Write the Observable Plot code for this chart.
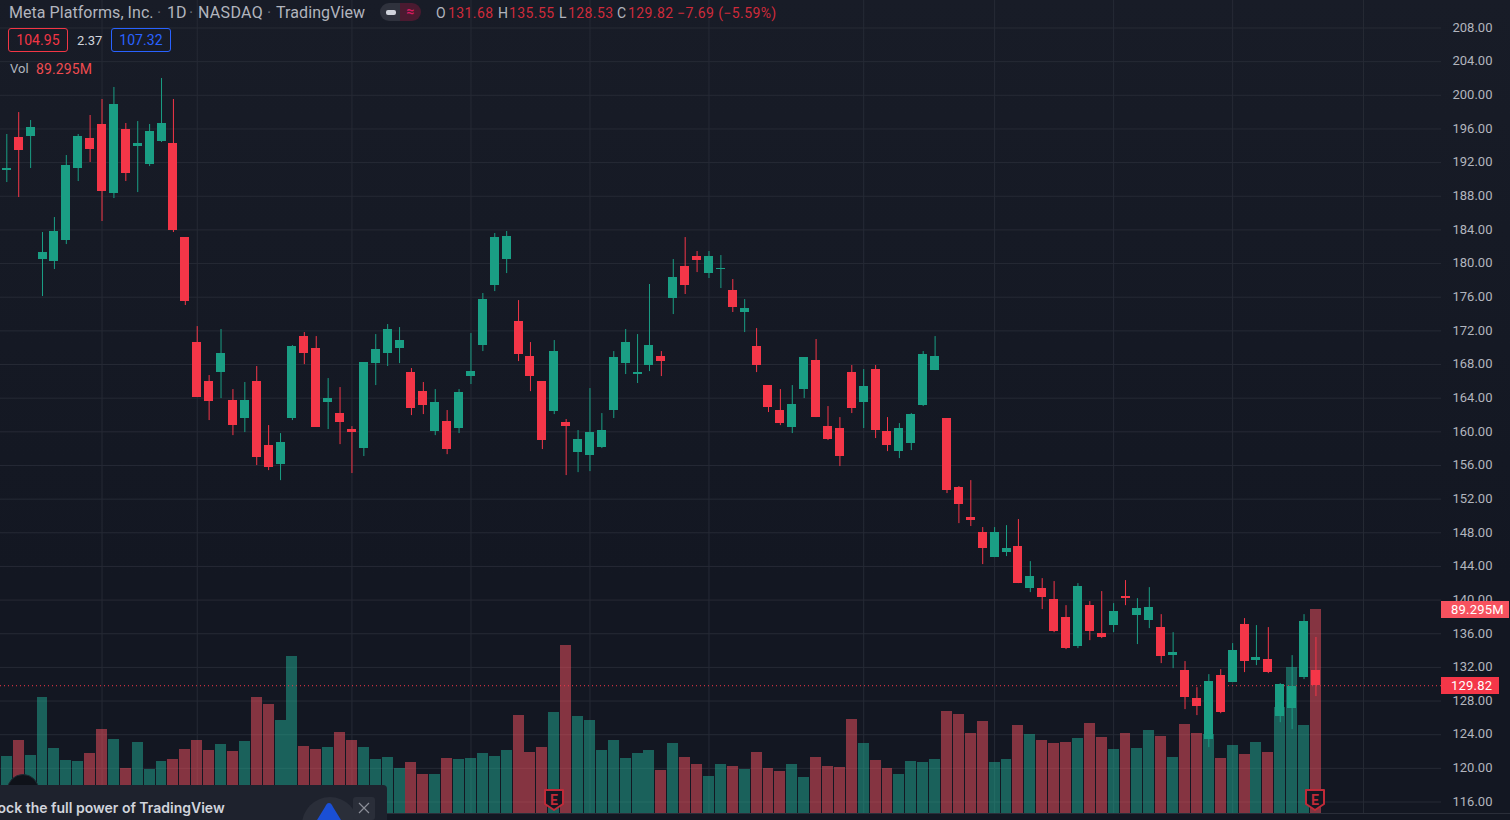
<!DOCTYPE html>
<html><head><meta charset="utf-8">
<script src="https://cdn.jsdelivr.net/npm/d3@7"></script>
<script src="https://cdn.jsdelivr.net/npm/@observablehq/plot@0.6"></script>
<style>
html,body{margin:0;padding:0;width:1510px;height:820px;overflow:hidden;background:linear-gradient(#181c27,#131722 70%);font-family:Roboto,sans-serif;}
#chart{position:absolute;left:0;top:0;width:1510px;height:820px;}
#chart svg{background:transparent;display:block;}
.t{position:absolute;white-space:nowrap;line-height:1;}
.box{position:absolute;box-sizing:border-box;border-radius:3px;text-align:center;font-size:14px;line-height:22px;letter-spacing:.1px;}
.badge{position:absolute;left:1441px;height:17px;line-height:17px;color:#fff;font-size:13px;padding-left:10px;box-sizing:border-box;letter-spacing:.2px;}
</style></head><body>
<div id="chart"></div>
<script>
const opens=[191.06,194.98,195.10,180.48,180.24,182.74,191.30,194.86,196.53,188.32,195.93,193.91,191.77,194.51,194.27,183.09,170.61,165.97,167.04,163.72,161.58,165.97,158.37,156.11,161.58,171.32,169.90,163.48,162.17,160.27,158.01,168.11,169.30,169.90,167.04,164.78,160.03,161.22,160.39,166.57,170.25,177.39,180.48,173.11,168.95,165.97,162.41,161.10,157.53,157.18,158.13,162.53,168.11,166.81,167.88,168.95,175.84,179.65,180.83,178.81,179.29,176.79,174.18,170.14,165.50,162.53,160.51,165.02,168.47,160.62,160.39,167.04,163.48,167.40,160.03,157.65,158.60,163.12,167.28,161.58,153.37,149.80,148.02,145.05,145.64,146.36,141.36,141.36,140.06,137.92,134.47,139.34,136.01,136.97,140.41,138.15,137.56,136.73,133.40,131.62,128.29,123.41,131.02,130.19,137.08,132.80,132.92,126.15,127.10,130.78,131.68];
const highs=[195.34,197.95,197.00,183.69,185.47,192.84,195.34,197.60,199.50,200.93,196.65,196.88,196.53,202.00,199.50,183.09,172.51,166.69,172.16,165.02,165.86,167.76,160.74,159.79,170.25,171.80,171.32,166.33,165.26,160.62,168.23,171.56,172.75,172.39,167.52,165.86,165.02,162.53,165.02,171.68,176.44,183.57,183.81,175.60,170.61,165.97,170.85,161.46,160.15,165.14,162.17,169.54,172.16,171.56,177.51,169.54,180.48,183.09,181.43,181.43,180.95,178.10,175.72,172.27,165.50,165.02,165.50,168.83,170.97,163.00,161.69,167.88,167.40,167.88,161.69,160.98,162.17,169.54,171.32,161.58,153.49,154.20,148.62,148.62,148.85,149.57,144.57,142.55,142.20,139.34,141.96,139.82,141.01,139.58,142.32,140.17,141.48,138.27,136.13,132.69,129.59,131.14,131.73,134.83,137.80,136.97,136.73,130.07,133.40,138.27,135.55];
const lows=[189.63,187.85,191.30,176.08,179.29,182.26,189.75,192.01,185.00,187.73,189.75,188.44,191.53,194.39,183.69,175.01,164.07,161.34,163.95,159.55,159.91,155.99,155.39,154.20,161.34,167.99,160.51,160.27,158.48,155.04,157.06,165.50,167.76,168.11,161.93,162.05,159.55,157.29,159.79,165.62,169.54,176.67,178.81,168.35,164.78,157.89,162.05,154.80,155.15,155.27,158.01,161.58,166.81,165.74,167.16,166.57,173.94,176.32,178.93,178.22,177.03,174.18,171.80,167.04,162.29,160.74,159.79,163.95,161.69,158.96,155.87,162.17,160.39,159.20,157.65,156.82,157.77,163.00,167.28,152.66,149.09,148.74,144.22,145.05,145.17,141.96,140.89,138.87,136.13,134.11,134.23,135.18,135.42,136.13,139.34,134.71,136.61,132.45,131.85,126.98,126.27,122.46,126.50,130.19,131.38,132.21,131.26,125.43,124.60,130.55,128.53];
const closes=[191.33,193.44,196.17,181.31,183.81,191.65,195.10,193.56,188.56,198.91,190.70,194.27,195.70,196.65,183.93,175.49,164.07,163.60,169.30,160.74,163.72,156.94,155.75,158.72,170.14,169.30,160.51,163.95,161.10,159.91,168.23,169.78,172.16,170.85,162.76,163.12,163.48,157.89,164.67,167.16,175.72,183.09,183.21,169.18,166.57,158.96,169.54,160.62,159.08,159.91,160.15,168.83,170.61,167.04,170.25,168.35,178.34,177.39,180.36,180.83,179.41,174.77,174.65,167.88,162.88,160.98,163.24,168.83,161.69,159.08,157.06,162.76,165.38,160.15,158.37,160.39,162.05,169.18,168.95,153.02,151.35,149.45,146.12,148.02,146.12,141.96,142.79,140.29,136.25,134.23,141.60,136.25,135.54,138.63,140.17,138.99,139.11,133.28,133.76,128.41,127.34,130.31,126.62,133.99,132.69,133.16,131.38,129.95,129.71,137.44,129.82];
const volumes=[24.9,32.0,25.4,50.8,28.5,23.2,22.8,26.3,36.8,32.4,19.7,31.1,19.3,22.8,23.6,28.0,32.0,27.6,30.2,27.1,31.5,50.8,47.7,40.7,68.7,29.3,28.0,28.9,35.5,32.0,28.9,23.6,24.5,19.7,22.3,17.1,17.1,24.1,23.6,24.1,26.3,24.9,27.6,42.9,26.7,28.9,44.2,73.5,42.5,40.7,27.6,32.0,24.1,26.3,27.6,18.8,30.6,24.5,21.4,16.2,21.4,20.6,19.3,26.7,19.7,18.4,21.4,15.8,24.5,20.6,20.1,41.1,30.6,23.2,19.7,17.1,22.8,22.3,23.6,44.6,43.3,35.0,40.3,22.3,23.6,38.5,34.6,32.0,30.6,31.1,32.8,39.4,33.3,28.0,35.0,28.5,36.3,33.7,24.5,39.0,35.0,34.6,24.1,29.8,25.8,31.1,26.7,46.4,63.9,38.5,89.295];
const priceTicks=[116,120,124,128,132,136,140,144,148,152,156,160,164,168,172,176,180,184,188,192,196,200,204,208];
const verticalGrid=[8,16,29,39,49,59,72,83,93,103,114];
const earnings=[46,110];
const lastPrice=129.82, lastVolume=89.295;

const candles=opens.map((o,i)=>({i,o,h:highs[i],l:lows[i],c:closes[i],v:volumes[i]}));
const up=candles.filter(d=>d.c>=d.o), down=candles.filter(d=>d.c<d.o);
const GREEN="#1a9e84",RED="#f43648",GRID="#262a35";
const volBase=114.63, volK=0.2716; // volume pane is a 0-based scale laid over the price axis
const volUp={x1:d=>d.i-.46,x2:d=>d.i+.46,y1:volBase,y2:d=>volBase+d.v*volK};
const body={x1:d=>d.i-.378,x2:d=>d.i+.378,y1:d=>d.o,y2:d=>d.c,shapeRendering:"crispEdges"};
const wick={x:d=>d.i,y1:d=>d.l,y2:d=>d.h,strokeWidth:1};

const chart=Plot.plot({
  width:1510,height:820,marginLeft:0,marginRight:69,marginTop:0,marginBottom:0,
  style:{background:"transparent",fontFamily:"Roboto,sans-serif",fontSize:"13px"},
  x:{domain:[-0.53,120.55],range:[0,1441],axis:null},
  y:{domain:[208,116],range:[27.5,801.5],axis:null},
  marks:[
    Plot.ruleY(priceTicks,{stroke:GRID,strokeWidth:1}),
    Plot.ruleX(verticalGrid,{y1:211.27,y2:volBase,stroke:GRID,strokeWidth:1}),
    Plot.rect(up,{...volUp,fill:"#22ab94",fillOpacity:.5,shapeRendering:"crispEdges"}),
    Plot.rect(down,{...volUp,fill:"#f7525f",fillOpacity:.5,shapeRendering:"crispEdges"}),
    Plot.ruleY([lastPrice],{stroke:RED,strokeWidth:1,strokeDasharray:"1,3"}),
    Plot.ruleX(up,{...wick,stroke:GREEN}),
    Plot.ruleX(down,{...wick,stroke:RED}),
    Plot.rect(up,{...body,fill:GREEN}),
    Plot.rect(down,{...body,fill:RED}),
    Plot.axisY(priceTicks,{anchor:"right",tickSize:0,tickPadding:11,textAnchor:"start",tickFormat:d=>d.toFixed(2),fill:"#b2b5be",label:null,dy:-0.4})
  ]
});
document.getElementById("chart").appendChild(chart);
const px=chart.scale("x"),py=chart.scale("y");

function add(html){const d=document.createElement("div");d.innerHTML=html;while(d.firstChild)document.body.appendChild(d.firstChild);}
function txt(x,y,s,color,size,extra){add(`<div class="t" style="left:${x}px;top:${y}px;color:${color};font-size:${size}px;${extra||""}">${s}</div>`);}

// baseline of the time axis
add(`<div style="position:absolute;left:0;top:813px;width:1510px;height:1px;background:#2a2e39"></div>`);

// header
const GREY="#b2b5be",VAL="#cf2b3b",LS="letter-spacing:.4px;";
txt(9,5,"Meta Platforms, Inc.",GREY,16,"letter-spacing:.05px;");
txt(157,5,"·","#6a6d78",16);
txt(167,5,"1D",GREY,16);
txt(189,5,"·","#6a6d78",16);
txt(198,5,"NASDAQ",GREY,16,"letter-spacing:.3px;");
txt(267,5,"·","#6a6d78",16);
txt(276,5,"TradingView",GREY,16,"letter-spacing:.1px;");
add(`<div style="position:absolute;left:380px;top:3px;width:41px;height:18px;border-radius:9px;overflow:hidden;display:flex">
<div style="width:20px;background:#2f323d;position:relative"><div style="position:absolute;left:6px;top:6.5px;width:10px;height:5px;border-radius:2px;background:#d1d4dc"></div></div>
<div style="flex:1;background:#4a1a30;color:#d81b60;font-size:14px;line-height:16px;text-align:center;font-weight:700">≈</div></div>`);
txt(436,6,"O",GREY,14); txt(448,6,"131.68",VAL,14,LS);
txt(498,6,"H",GREY,14); txt(509,6,"135.55",VAL,14,LS);
txt(559,6,"L",GREY,14); txt(568,6,"128.53",VAL,14,LS);
txt(617,6,"C",GREY,14); txt(628,6,"129.82",VAL,14,LS);
txt(677,6,"−7.69 (−5.59%)",VAL,14,LS);

add(`<div class="box" style="left:8px;top:28px;width:60px;height:24px;border:1px solid #f23645;color:#f23645;">104.95</div>`);
txt(77,34,"2.37","#d1d4dc",13);
add(`<div class="box" style="left:111px;top:28px;width:60px;height:24px;border:1px solid #2962ff;color:#2962ff;">107.32</div>`);
txt(10,62,"Vol",GREY,13);
txt(36,62,"89.295M","#ef4b50",14,"letter-spacing:.1px;");

// right-axis price and volume tags
add(`<div class="badge" style="top:${py.apply(volBase+lastVolume*volK)-8}px;width:68px;background:#f7525f">89.295M</div>`);
add(`<div class="badge" style="top:${py.apply(lastPrice)-8.5}px;width:58px;background:${RED}">129.82</div>`);

// earnings flags
for(const i of earnings){
  add(`<svg style="position:absolute;left:${px.apply(i)-11}px;top:788px" width="22" height="24" viewBox="0 0 22 24">
  <path d="M2 2H20V16L11 22L2 16Z" fill="#131722" stroke="#c02a38" stroke-width="2" stroke-linejoin="round"/>
  <text x="11" y="17" text-anchor="middle" font-family="Roboto,sans-serif" font-size="14" font-weight="700" fill="#c02a38">E</text></svg>`);
}

// promo popup
add(`<div style="position:absolute;left:7px;top:774px;width:32px;height:32px;border-radius:16px;background:#0f1219;border:1px solid #1d2b33;box-sizing:border-box"></div>`);
add(`<div style="position:absolute;left:-8px;top:785px;width:395px;height:35px;background:#1e222d;border-radius:4px 4px 0 0;overflow:hidden">
<div style="position:absolute;left:310px;top:12px;width:56px;height:56px;border-radius:28px;background:#2a2e39"></div>
<svg style="position:absolute;left:325px;top:17px" width="24" height="18"><path d="M12 1C14 1 15 3 16 5L24 18H0L8 5C9 3 10 1 12 1Z" fill="#1a4fd6"/></svg>
<div style="position:absolute;left:361px;top:12px;width:22px;height:23px;background:#2a2e39;border-radius:3px;"><svg width="22" height="23"><path d="M6 6L16 16M16 6L6 16" stroke="#8b8e98" stroke-width="1.2"/></svg></div>
</div>`);
txt(-25,801,"Unlock the full power of TradingView","#d1d4dc",14,"font-family:Inter,sans-serif;font-weight:600;");
</script>
</body></html>
